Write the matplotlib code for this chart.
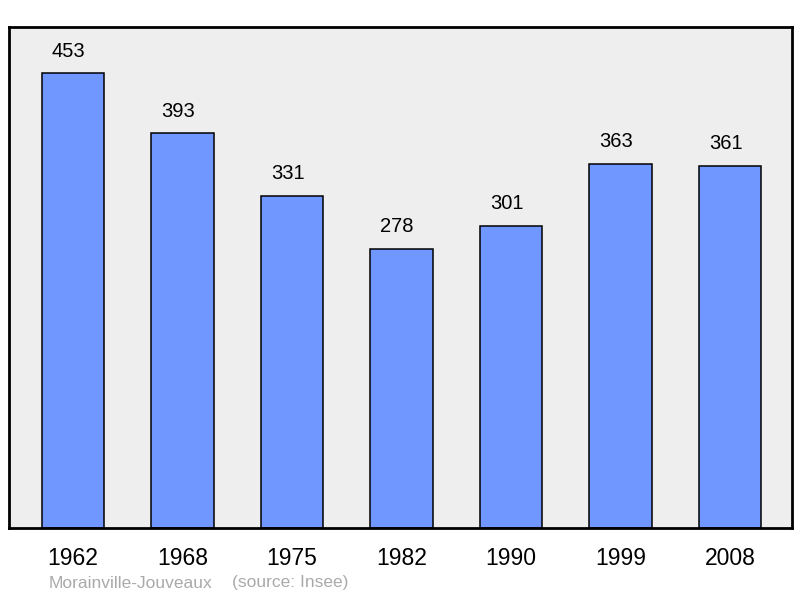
import matplotlib.pyplot as plt
import numpy as np

plt.rcParams['font.family'] = ['Liberation Sans', 'DejaVu Sans']

# population by census year
years = ['1962', '1968', '1975', '1982', '1990', '1999', '2008']
population = [453, 393, 331, 278, 301, 363, 361]
town = 'Morainville-Jouveaux'
source = '(source: Insee)'

fig = plt.figure(figsize=(8, 5.98), dpi=100)
ax = fig.add_axes([9 / 800, 70 / 598, 783 / 800, 501 / 598])
ax.set_facecolor('#eeeeee')

x = np.arange(len(years))
ax.bar(x, population, width=0.57, color='#7097ff', edgecolor='black', linewidth=1.1, zorder=2)

for xi, v in zip(x, population):
    ax.text(xi - 0.04, v + 22, str(v), ha='center', va='center', fontsize=14.5, color='black')

ax.set_xlim(-0.584, 6.566)
ax.set_ylim(0, 499)
ax.set_yticks([])
ax.set_xticks(x)
ax.set_xticklabels(years, fontsize=16.5)
ax.tick_params(axis='x', length=0, pad=14)
for s in ax.spines.values():
    s.set_linewidth(2)
    s.set_color('black')

fig.text(49 / 800, 1 - 583 / 598, town, fontsize=12.5, color='#aaaaaa', va='center', ha='left')
fig.text(232 / 800, 1 - 583 / 598, source, fontsize=12.5, color='#aaaaaa', va='center', ha='left')

fig.savefig('out.png', dpi=100)
